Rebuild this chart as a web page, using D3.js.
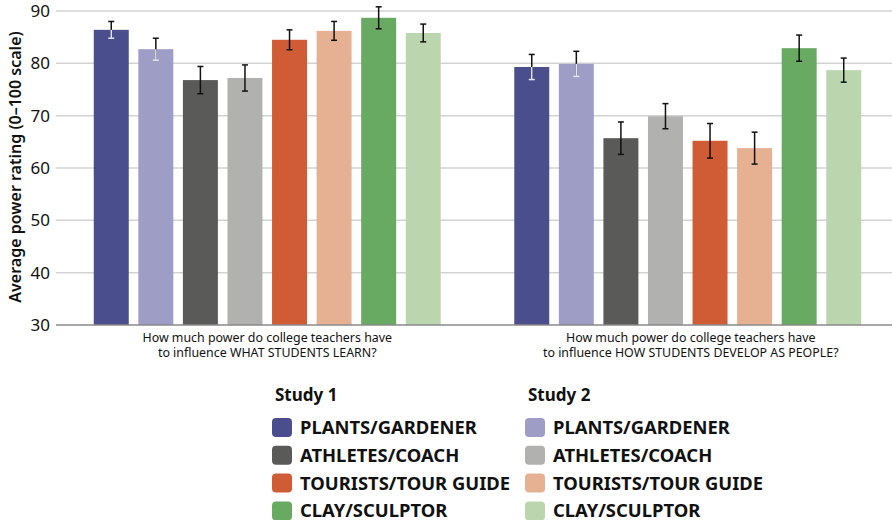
<!DOCTYPE html>
<html>
<head>
<meta charset="utf-8">
<script src="https://cdn.jsdelivr.net/npm/d3@7"></script>
<style>
  body { margin: 0; background: #fff; }
  svg text { font-family: "Noto Sans", sans-serif; fill: #111; }
</style>
</head>
<body>
<script>
// data
var questions = [
  ['How much power do college teachers have', 'to influence WHAT STUDENTS LEARN?'],
  ['How much power do college teachers have', 'to influence HOW STUDENTS DEVELOP AS PEOPLE?']
];
var seriesKeys = ['s1_plants','s2_plants','s1_athletes','s2_athletes','s1_tourists','s2_tourists','s1_clay','s2_clay'];
var metaphors = ['PLANTS/GARDENER','ATHLETES/COACH','TOURISTS/TOUR GUIDE','CLAY/SCULPTOR'];
var studies = ['Study 1','Study 2'];
var colors = ['#4b4e8c','#9d9dc6','#5a5a59','#b1b1b0','#cf5c35','#e6b193','#69aa62','#bbd6ae'];
var learnMeans = [86.4, 82.7, 76.8, 77.2, 84.5, 86.2, 88.7, 85.8];
var learnErr   = [1.6, 2.1, 2.6, 2.5, 1.9, 1.8, 2.1, 1.7];
var developMeans = [79.3, 79.9, 65.7, 69.9, 65.2, 63.8, 82.9, 78.7];
var developErr   = [2.4, 2.4, 3.1, 2.4, 3.3, 3.05, 2.5, 2.3];
var yTicks = [30, 40, 50, 60, 70, 80, 90];

var W = 892, H = 520;
var svg = d3.select('body').append('svg').attr('width', W).attr('height', H);

var x0 = d3.scaleBand().domain([0, 1]).range([57, 898]);
var x1 = d3.scaleBand().domain(seriesKeys).range([0, x0.bandwidth()])
  .paddingInner(0.215).paddingOuter(0.825);
var y = d3.scaleLinear().domain([30, 90]).range([325, 11]);
var color = d3.scaleOrdinal().domain(seriesKeys).range(colors);

// gridlines
svg.append('g').selectAll('line').data(yTicks.slice(1)).enter().append('line')
  .attr('x1', 56).attr('x2', W).attr('y1', function(d){ return y(d); }).attr('y2', function(d){ return y(d); })
  .style('stroke', '#d3d3d3').style('stroke-width', 1.5);

// y axis
var yAxis = svg.append('g').attr('transform', 'translate(56,0)')
  .call(d3.axisLeft(y).tickValues(yTicks).tickSize(0).tickPadding(6));
yAxis.select('.domain').remove();
yAxis.selectAll('text').style('font-size', '17px').style('fill', '#111');

svg.append('text')
  .attr('transform', 'translate(21,167) rotate(-90)')
  .attr('text-anchor', 'middle')
  .style('font-size', '16px').style('font-weight', 600)
  .text('Average power rating (0\u2013100 scale)');

var groups = [
  { q: 0, means: learnMeans, errs: learnErr },
  { q: 1, means: developMeans, errs: developErr }
];

groups.forEach(function(gr){
  var rows = seriesKeys.map(function(k, i){ return { key: k, i: i, v: gr.means[i], e: gr.errs[i] }; });
  var g = svg.append('g').attr('transform', 'translate(' + x0(gr.q) + ',0)');

  g.selectAll('rect').data(rows).enter().append('rect')
    .attr('x', function(d){ return x1(d.key); })
    .attr('width', x1.bandwidth())
    .attr('y', function(d){ return y(d.v); })
    .attr('height', function(d){ return y(30) - y(d.v); })
    .style('fill', function(d){ return color(d.key); });

  var eb = g.selectAll('.err').data(rows).enter().append('g').attr('class', 'err')
    .attr('transform', function(d){ return 'translate(' + (x1(d.key) + x1.bandwidth() / 2) + ',0)'; });
  eb.append('line').attr('y1', function(d){ return y(d.v + d.e); }).attr('y2', function(d){ return y(d.v - d.e); })
    .style('stroke', '#111').style('stroke-width', 1.5);
  eb.append('line').attr('x1', -3).attr('x2', 3)
    .attr('y1', function(d){ return y(d.v + d.e); }).attr('y2', function(d){ return y(d.v + d.e); })
    .style('stroke', '#111').style('stroke-width', 1.5);
  eb.append('line').attr('x1', -3).attr('x2', 3)
    .attr('y1', function(d){ return y(d.v - d.e); }).attr('y2', function(d){ return y(d.v - d.e); })
    .style('stroke', function(d){ return d.i < 2 ? '#e4e4ee' : '#111'; }).style('stroke-width', 1.5);
  // lighter part of the error bar inside the purple bars
  eb.filter(function(d){ return d.i < 2; }).append('line')
    .attr('y1', function(d){ return y(d.v); }).attr('y2', function(d){ return y(d.v - d.e); })
    .style('stroke', '#e4e4ee').style('stroke-width', 1.5);

  questions[gr.q].forEach(function(t, j){
    svg.append('text').attr('text-anchor', 'middle').style('font-size', '12.4px')
      .attr('x', x0(gr.q) + x0.bandwidth() / 2 + (gr.q ? 3 : 0)).attr('y', 342 + j * 14.5).text(t);
  });
});

// baseline
svg.append('line').attr('x1', 56).attr('x2', W).attr('y1', y(30)).attr('y2', y(30))
  .style('stroke', '#8a8a8a').style('stroke-width', 1.5);

// legend
var legX = [272, 525];
studies.forEach(function(s, c){
  var lg = svg.append('g').attr('transform', 'translate(' + legX[c] + ',0)');
  lg.append('text').attr('x', 3).attr('y', 401).style('font-size', '17px').style('font-weight', 700).text(s);
  metaphors.forEach(function(m, r){
    var cy = 427.5 + r * 27.8;
    lg.append('rect').attr('x', 0).attr('y', cy - 9.5).attr('width', 20).attr('height', 19).attr('rx', 4)
      .style('fill', colors[r * 2 + c]);
    lg.append('text').attr('x', 28).attr('y', cy + 6.5).style('font-size', '18.4px').style('font-weight', 700).text(m);
  });
});
</script>
</body>
</html>
